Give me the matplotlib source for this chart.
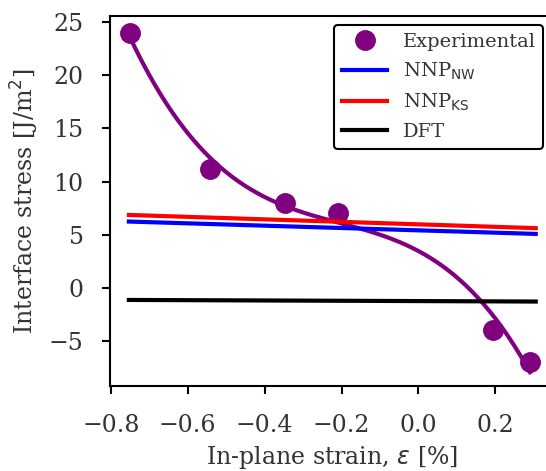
import numpy as np
import matplotlib
matplotlib.use("Agg")
import matplotlib.pyplot as plt

plt.rcParams['font.family'] = 'DejaVu Serif'
plt.rcParams['font.size'] = 17

# Experimental data points
strain_exp = np.array([-0.75, -0.543, -0.348, -0.21, 0.193, 0.29])
stress_exp = np.array([23.95, 11.2, 8.0, 7.1, -3.95, -6.95])

# Linear model predictions (end points)
strain_model = np.array([-0.753, 0.305])
stress_nw = np.array([6.26, 5.1])
stress_ks = np.array([6.88, 5.64])
stress_dft = np.array([-1.1, -1.25])

# Cubic fit through the experimental points
coef = np.polyfit(strain_exp, stress_exp, 3)
x_fit = np.linspace(strain_exp.min(), strain_exp.max(), 200)
y_fit = np.polyval(coef, x_fit)

fig = plt.figure(figsize=(5.46, 4.71), dpi=100)
ax = fig.add_axes([0.2015, 0.180, 0.8114, 0.787])

ax.plot(x_fit, y_fit, color='purple', lw=3)
ax.plot(strain_exp, stress_exp, 'o', color='purple', ms=14, label='Experimental')
ax.plot(strain_model, stress_nw, color='blue', lw=3, label=r'NNP$_{\mathrm{NW}}$')
ax.plot(strain_model, stress_ks, color='red', lw=3, label=r'NNP$_{\mathrm{KS}}$')
ax.plot(strain_model, stress_dft, color='black', lw=3, label='DFT')

ax.set_xlim(-0.802, 0.350)
ax.set_ylim(-9.2, 25.6)
ax.set_xticks([-0.8, -0.6, -0.4, -0.2, 0.0, 0.2])
ax.set_yticks([-5, 0, 5, 10, 15, 20, 25])
ax.tick_params(length=6, width=1.5, pad=13, color='black', labelcolor='#333333')
ax.tick_params(axis='x', pad=14)
for s in ax.spines.values():
    s.set_linewidth(1.5)

ax.set_xlabel(r'In-plane strain, $\varepsilon$ [%]', color='#333333', labelpad=5)
ax.set_ylabel(r'Interface stress [J/m$^2$]', color='#333333', labelpad=6)

leg = ax.legend(loc='upper right', frameon=True, edgecolor='black', framealpha=1,
                handlelength=2.3, handletextpad=0.8, borderaxespad=0.5, fontsize=14)
leg.get_frame().set_linewidth(1.5)
for t in leg.get_texts():
    t.set_color('#333333')

fig.savefig('out.png', dpi=100)
